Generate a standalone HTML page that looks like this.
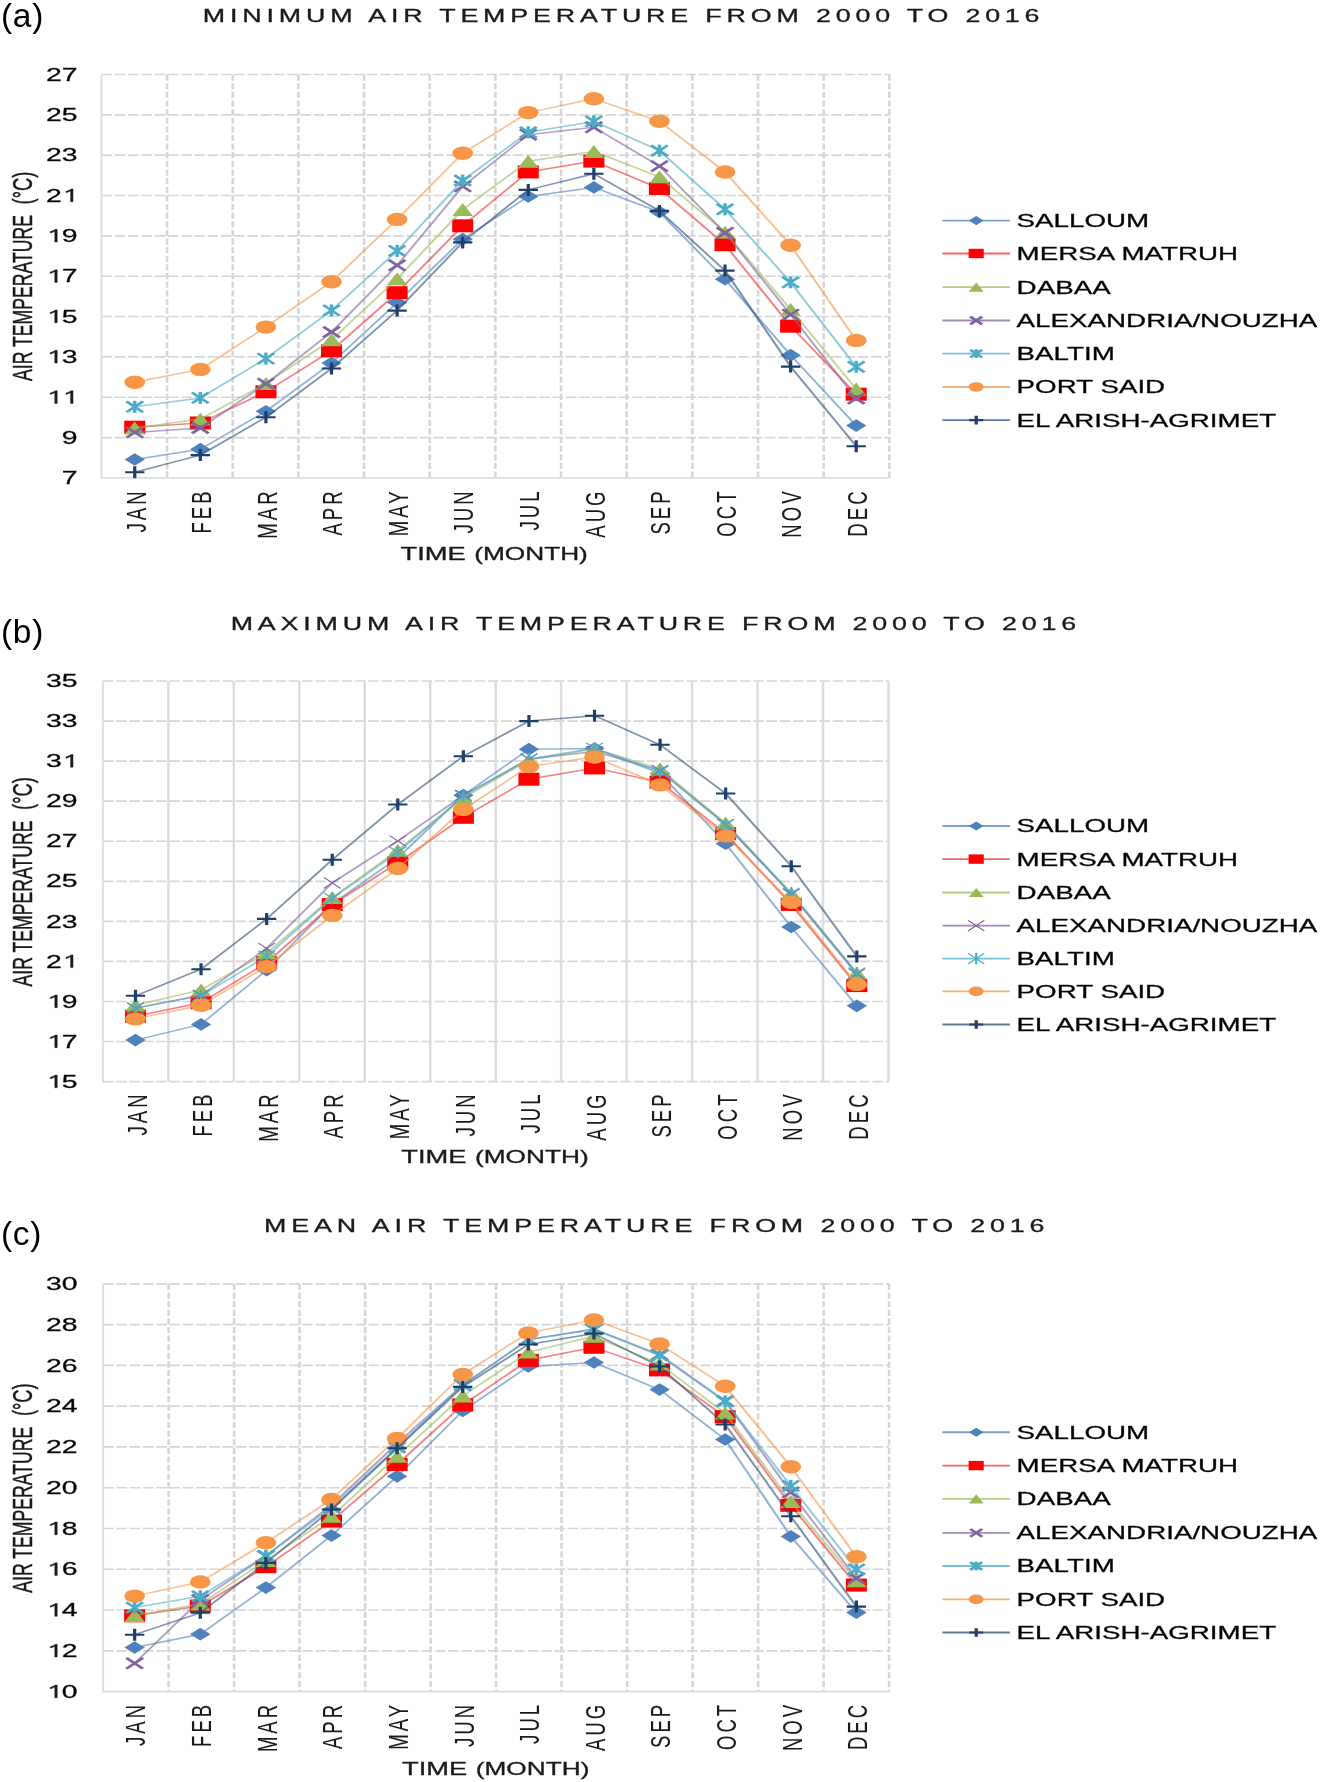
<!DOCTYPE html><html><head><meta charset="utf-8"><title>Air temperature charts</title><style>html,body{margin:0;padding:0;background:#fff;}svg{display:block;will-change:transform;filter:blur(0.45px);}text{font-family:"Liberation Sans", sans-serif;}g text{stroke:#1a1a1a;stroke-width:0.3px;}</style></head><body><svg width="1320" height="1782" viewBox="0 0 1320 1782"><rect width="1320" height="1782" fill="#fff"/><text x="1" y="27.1" font-size="33.5" letter-spacing="0.7" fill="#000">(a)</text><g transform="scale(1.534 1)" fill="#1a1a1a"><path d="M66.1 437.56H579.79M66.1 397.22H579.79M66.1 356.88H579.79M66.1 316.54H579.79M66.1 276.2H579.79M66.1 235.86H579.79M66.1 195.52H579.79M66.1 155.18H579.79M66.1 114.84H579.79M66.1 74.5H579.79" stroke="#D6D6D6" stroke-width="1.65" stroke-dasharray="6.95 1.7" fill="none"/><path d="M108.91 74.5V477.9M151.72 74.5V477.9M194.52 74.5V477.9M237.33 74.5V477.9M280.14 74.5V477.9M322.95 74.5V477.9M365.75 74.5V477.9M408.56 74.5V477.9M451.37 74.5V477.9M494.18 74.5V477.9M536.98 74.5V477.9M579.79 74.5V477.9" stroke="#D6D6D6" stroke-width="1.7" stroke-dasharray="6.2 2.43" fill="none"/><path d="M66.1 74.5V478.7" stroke="#DCDCDC" stroke-width="1.3" fill="none"/><path d="M66.1 477.9H579.79" stroke="#DCDCDC" stroke-width="1.8" fill="none"/><text x="40.31" y="484.1" font-size="18.5" text-anchor="start" fill="#000">7</text><text x="40.31" y="443.76" font-size="18.5" text-anchor="start" fill="#000">9</text><path d="M810 0H628V1190Q550 1118 455 1066Q365 1018 300 996V1160Q440 1218 545 1300Q630 1370 670 1409H810Z" transform="translate(30.02 403.42) scale(0.009033 -0.009033)" fill="#1a1a1a" stroke="#1a1a1a" stroke-width="33.21"/><path d="M810 0H628V1190Q550 1118 455 1066Q365 1018 300 996V1160Q440 1218 545 1300Q630 1370 670 1409H810Z" transform="translate(40.31 403.42) scale(0.009033 -0.009033)" fill="#1a1a1a" stroke="#1a1a1a" stroke-width="33.21"/><path d="M810 0H628V1190Q550 1118 455 1066Q365 1018 300 996V1160Q440 1218 545 1300Q630 1370 670 1409H810Z" transform="translate(30.02 363.08) scale(0.009033 -0.009033)" fill="#1a1a1a" stroke="#1a1a1a" stroke-width="33.21"/><text x="40.31" y="363.08" font-size="18.5" text-anchor="start" fill="#000">3</text><path d="M810 0H628V1190Q550 1118 455 1066Q365 1018 300 996V1160Q440 1218 545 1300Q630 1370 670 1409H810Z" transform="translate(30.02 322.74) scale(0.009033 -0.009033)" fill="#1a1a1a" stroke="#1a1a1a" stroke-width="33.21"/><text x="40.31" y="322.74" font-size="18.5" text-anchor="start" fill="#000">5</text><path d="M810 0H628V1190Q550 1118 455 1066Q365 1018 300 996V1160Q440 1218 545 1300Q630 1370 670 1409H810Z" transform="translate(30.02 282.4) scale(0.009033 -0.009033)" fill="#1a1a1a" stroke="#1a1a1a" stroke-width="33.21"/><text x="40.31" y="282.4" font-size="18.5" text-anchor="start" fill="#000">7</text><path d="M810 0H628V1190Q550 1118 455 1066Q365 1018 300 996V1160Q440 1218 545 1300Q630 1370 670 1409H810Z" transform="translate(30.02 242.06) scale(0.009033 -0.009033)" fill="#1a1a1a" stroke="#1a1a1a" stroke-width="33.21"/><text x="40.31" y="242.06" font-size="18.5" text-anchor="start" fill="#000">9</text><text x="30.02" y="201.72" font-size="18.5" text-anchor="start" fill="#000">2</text><path d="M810 0H628V1190Q550 1118 455 1066Q365 1018 300 996V1160Q440 1218 545 1300Q630 1370 670 1409H810Z" transform="translate(40.31 201.72) scale(0.009033 -0.009033)" fill="#1a1a1a" stroke="#1a1a1a" stroke-width="33.21"/><text x="30.02" y="161.38" font-size="18.5" text-anchor="start" fill="#000">2</text><text x="40.31" y="161.38" font-size="18.5" text-anchor="start" fill="#000">3</text><text x="30.02" y="121.04" font-size="18.5" text-anchor="start" fill="#000">2</text><text x="40.31" y="121.04" font-size="18.5" text-anchor="start" fill="#000">5</text><text x="30.02" y="80.7" font-size="18.5" text-anchor="start" fill="#000">2</text><text x="40.31" y="80.7" font-size="18.5" text-anchor="start" fill="#000">7</text><polyline points="87.84,459.5 130.59,449.2 173.35,411.3 216.11,363.1 258.86,302.6 301.62,239.2 344.37,196.5 387.13,187.4 429.89,212 472.64,279.2 515.4,355.2 558.15,425.6" stroke="#4F81BD" stroke-width="1.5" stroke-opacity="0.6" fill="none" stroke-linejoin="round"/><path d="M87.84 453.15L94.49 459.5L87.84 465.85L81.19 459.5Z" fill="#4F81BD"/><path d="M130.59 442.85L137.24 449.2L130.59 455.55L123.94 449.2Z" fill="#4F81BD"/><path d="M173.35 404.95L180 411.3L173.35 417.65L166.7 411.3Z" fill="#4F81BD"/><path d="M216.11 356.75L222.76 363.1L216.11 369.45L209.46 363.1Z" fill="#4F81BD"/><path d="M258.86 296.25L265.51 302.6L258.86 308.95L252.21 302.6Z" fill="#4F81BD"/><path d="M301.62 232.85L308.27 239.2L301.62 245.55L294.97 239.2Z" fill="#4F81BD"/><path d="M344.37 190.15L351.02 196.5L344.37 202.85L337.72 196.5Z" fill="#4F81BD"/><path d="M387.13 181.05L393.78 187.4L387.13 193.75L380.48 187.4Z" fill="#4F81BD"/><path d="M429.89 205.65L436.54 212L429.89 218.35L423.24 212Z" fill="#4F81BD"/><path d="M472.64 272.85L479.29 279.2L472.64 285.55L465.99 279.2Z" fill="#4F81BD"/><path d="M515.4 348.85L522.05 355.2L515.4 361.55L508.75 355.2Z" fill="#4F81BD"/><path d="M558.15 419.25L564.8 425.6L558.15 431.95L551.5 425.6Z" fill="#4F81BD"/><polyline points="87.84,427.2 130.59,423 173.35,391.8 216.11,350.8 258.86,292.7 301.62,225.8 344.37,171.9 387.13,161.1 429.89,188.5 472.64,244.7 515.4,326.2 558.15,394.2" stroke="#F03030" stroke-width="1.5" stroke-opacity="0.6" fill="none" stroke-linejoin="round"/><rect x="80.99" y="420.7" width="13.7" height="13" fill="#FF0000"/><rect x="123.74" y="416.5" width="13.7" height="13" fill="#FF0000"/><rect x="166.5" y="385.3" width="13.7" height="13" fill="#FF0000"/><rect x="209.26" y="344.3" width="13.7" height="13" fill="#FF0000"/><rect x="252.01" y="286.2" width="13.7" height="13" fill="#FF0000"/><rect x="294.77" y="219.3" width="13.7" height="13" fill="#FF0000"/><rect x="337.52" y="165.4" width="13.7" height="13" fill="#FF0000"/><rect x="380.28" y="154.6" width="13.7" height="13" fill="#FF0000"/><rect x="423.04" y="182" width="13.7" height="13" fill="#FF0000"/><rect x="465.79" y="238.2" width="13.7" height="13" fill="#FF0000"/><rect x="508.55" y="319.7" width="13.7" height="13" fill="#FF0000"/><rect x="551.3" y="387.7" width="13.7" height="13" fill="#FF0000"/><polyline points="87.84,428 130.59,419.1 173.35,383.5 216.11,339.9 258.86,278.9 301.62,209.5 344.37,161.3 387.13,151.5 429.89,176.8 472.64,232.2 515.4,309.4 558.15,389" stroke="#9BBB59" stroke-width="1.5" stroke-opacity="0.6" fill="none" stroke-linejoin="round"/><path d="M87.84 421.6L94.54 434.4L81.14 434.4Z" fill="#9BBB59"/><path d="M130.59 412.7L137.29 425.5L123.89 425.5Z" fill="#9BBB59"/><path d="M173.35 377.1L180.05 389.9L166.65 389.9Z" fill="#9BBB59"/><path d="M216.11 333.5L222.81 346.3L209.41 346.3Z" fill="#9BBB59"/><path d="M258.86 272.5L265.56 285.3L252.16 285.3Z" fill="#9BBB59"/><path d="M301.62 203.1L308.32 215.9L294.92 215.9Z" fill="#9BBB59"/><path d="M344.37 154.9L351.07 167.7L337.67 167.7Z" fill="#9BBB59"/><path d="M387.13 145.1L393.83 157.9L380.43 157.9Z" fill="#9BBB59"/><path d="M429.89 170.4L436.59 183.2L423.19 183.2Z" fill="#9BBB59"/><path d="M472.64 225.8L479.34 238.6L465.94 238.6Z" fill="#9BBB59"/><path d="M515.4 303L522.1 315.8L508.7 315.8Z" fill="#9BBB59"/><path d="M558.15 382.6L564.85 395.4L551.45 395.4Z" fill="#9BBB59"/><polyline points="87.84,432.4 130.59,428 173.35,383.7 216.11,332 258.86,265.3 301.62,186.4 344.37,134.7 387.13,127.3 429.89,166.1 472.64,232.8 515.4,314.6 558.15,398.5" stroke="#8064A2" stroke-width="1.5" stroke-opacity="0.6" fill="none" stroke-linejoin="round"/><path d="M82.44 427L93.24 437.8M82.44 437.8L93.24 427" stroke="#8064A2" stroke-width="2.3" fill="none"/><path d="M125.19 422.6L135.99 433.4M125.19 433.4L135.99 422.6" stroke="#8064A2" stroke-width="2.3" fill="none"/><path d="M167.95 378.3L178.75 389.1M167.95 389.1L178.75 378.3" stroke="#8064A2" stroke-width="2.3" fill="none"/><path d="M210.71 326.6L221.51 337.4M210.71 337.4L221.51 326.6" stroke="#8064A2" stroke-width="2.3" fill="none"/><path d="M253.46 259.9L264.26 270.7M253.46 270.7L264.26 259.9" stroke="#8064A2" stroke-width="2.3" fill="none"/><path d="M296.22 181L307.02 191.8M296.22 191.8L307.02 181" stroke="#8064A2" stroke-width="2.3" fill="none"/><path d="M338.97 129.3L349.77 140.1M338.97 140.1L349.77 129.3" stroke="#8064A2" stroke-width="2.3" fill="none"/><path d="M381.73 121.9L392.53 132.7M381.73 132.7L392.53 121.9" stroke="#8064A2" stroke-width="2.3" fill="none"/><path d="M424.49 160.7L435.29 171.5M424.49 171.5L435.29 160.7" stroke="#8064A2" stroke-width="2.3" fill="none"/><path d="M467.24 227.4L478.04 238.2M467.24 238.2L478.04 227.4" stroke="#8064A2" stroke-width="2.3" fill="none"/><path d="M510 309.2L520.8 320M510 320L520.8 309.2" stroke="#8064A2" stroke-width="2.3" fill="none"/><path d="M552.75 393.1L563.55 403.9M552.75 403.9L563.55 393.1" stroke="#8064A2" stroke-width="2.3" fill="none"/><polyline points="87.84,406.8 130.59,397.9 173.35,358.6 216.11,310.4 258.86,250.9 301.62,180.5 344.37,132.3 387.13,121.4 429.89,150.7 472.64,209.3 515.4,282.3 558.15,366.8" stroke="#4BACC6" stroke-width="1.5" stroke-opacity="0.6" fill="none" stroke-linejoin="round"/><path d="M82.44 401.4L93.24 412.2M82.44 412.2L93.24 401.4" stroke="#4BACC6" stroke-width="2.3" fill="none"/><path d="M87.84 400.8L87.84 412.8" stroke="#4BACC6" stroke-width="2.3" fill="none"/><path d="M125.19 392.5L135.99 403.3M125.19 403.3L135.99 392.5" stroke="#4BACC6" stroke-width="2.3" fill="none"/><path d="M130.59 391.9L130.59 403.9" stroke="#4BACC6" stroke-width="2.3" fill="none"/><path d="M167.95 353.2L178.75 364M167.95 364L178.75 353.2" stroke="#4BACC6" stroke-width="2.3" fill="none"/><path d="M173.35 352.6L173.35 364.6" stroke="#4BACC6" stroke-width="2.3" fill="none"/><path d="M210.71 305L221.51 315.8M210.71 315.8L221.51 305" stroke="#4BACC6" stroke-width="2.3" fill="none"/><path d="M216.11 304.4L216.11 316.4" stroke="#4BACC6" stroke-width="2.3" fill="none"/><path d="M253.46 245.5L264.26 256.3M253.46 256.3L264.26 245.5" stroke="#4BACC6" stroke-width="2.3" fill="none"/><path d="M258.86 244.9L258.86 256.9" stroke="#4BACC6" stroke-width="2.3" fill="none"/><path d="M296.22 175.1L307.02 185.9M296.22 185.9L307.02 175.1" stroke="#4BACC6" stroke-width="2.3" fill="none"/><path d="M301.62 174.5L301.62 186.5" stroke="#4BACC6" stroke-width="2.3" fill="none"/><path d="M338.97 126.9L349.77 137.7M338.97 137.7L349.77 126.9" stroke="#4BACC6" stroke-width="2.3" fill="none"/><path d="M344.37 126.3L344.37 138.3" stroke="#4BACC6" stroke-width="2.3" fill="none"/><path d="M381.73 116L392.53 126.8M381.73 126.8L392.53 116" stroke="#4BACC6" stroke-width="2.3" fill="none"/><path d="M387.13 115.4L387.13 127.4" stroke="#4BACC6" stroke-width="2.3" fill="none"/><path d="M424.49 145.3L435.29 156.1M424.49 156.1L435.29 145.3" stroke="#4BACC6" stroke-width="2.3" fill="none"/><path d="M429.89 144.7L429.89 156.7" stroke="#4BACC6" stroke-width="2.3" fill="none"/><path d="M467.24 203.9L478.04 214.7M467.24 214.7L478.04 203.9" stroke="#4BACC6" stroke-width="2.3" fill="none"/><path d="M472.64 203.3L472.64 215.3" stroke="#4BACC6" stroke-width="2.3" fill="none"/><path d="M510 276.9L520.8 287.7M510 287.7L520.8 276.9" stroke="#4BACC6" stroke-width="2.3" fill="none"/><path d="M515.4 276.3L515.4 288.3" stroke="#4BACC6" stroke-width="2.3" fill="none"/><path d="M552.75 361.4L563.55 372.2M552.75 372.2L563.55 361.4" stroke="#4BACC6" stroke-width="2.3" fill="none"/><path d="M558.15 360.8L558.15 372.8" stroke="#4BACC6" stroke-width="2.3" fill="none"/><polyline points="87.84,382.2 130.59,369.4 173.35,327.1 216.11,281.8 258.86,219.4 301.62,153.3 344.37,112.6 387.13,98.8 429.89,121.3 472.64,172 515.4,245.2 558.15,340.4" stroke="#F79646" stroke-width="1.5" stroke-opacity="0.6" fill="none" stroke-linejoin="round"/><ellipse cx="87.84" cy="382.2" rx="6.75" ry="6.7" fill="#F79646"/><ellipse cx="130.59" cy="369.4" rx="6.75" ry="6.7" fill="#F79646"/><ellipse cx="173.35" cy="327.1" rx="6.75" ry="6.7" fill="#F79646"/><ellipse cx="216.11" cy="281.8" rx="6.75" ry="6.7" fill="#F79646"/><ellipse cx="258.86" cy="219.4" rx="6.75" ry="6.7" fill="#F79646"/><ellipse cx="301.62" cy="153.3" rx="6.75" ry="6.7" fill="#F79646"/><ellipse cx="344.37" cy="112.6" rx="6.75" ry="6.7" fill="#F79646"/><ellipse cx="387.13" cy="98.8" rx="6.75" ry="6.7" fill="#F79646"/><ellipse cx="429.89" cy="121.3" rx="6.75" ry="6.7" fill="#F79646"/><ellipse cx="472.64" cy="172" rx="6.75" ry="6.7" fill="#F79646"/><ellipse cx="515.4" cy="245.2" rx="6.75" ry="6.7" fill="#F79646"/><ellipse cx="558.15" cy="340.4" rx="6.75" ry="6.7" fill="#F79646"/><polyline points="87.84,472.3 130.59,455.1 173.35,417.2 216.11,368.5 258.86,310.6 301.62,242.4 344.37,189.9 387.13,173.8 429.89,210.9 472.64,270.6 515.4,366.6 558.15,446.2" stroke="#2C4D75" stroke-width="1.5" stroke-opacity="0.6" fill="none" stroke-linejoin="round"/><path d="M81.54 472.3L94.14 472.3M87.84 466.3L87.84 478.3" stroke="#1F3F6A" stroke-width="2.1" fill="none"/><path d="M124.29 455.1L136.89 455.1M130.59 449.1L130.59 461.1" stroke="#1F3F6A" stroke-width="2.1" fill="none"/><path d="M167.05 417.2L179.65 417.2M173.35 411.2L173.35 423.2" stroke="#1F3F6A" stroke-width="2.1" fill="none"/><path d="M209.81 368.5L222.41 368.5M216.11 362.5L216.11 374.5" stroke="#1F3F6A" stroke-width="2.1" fill="none"/><path d="M252.56 310.6L265.16 310.6M258.86 304.6L258.86 316.6" stroke="#1F3F6A" stroke-width="2.1" fill="none"/><path d="M295.32 242.4L307.92 242.4M301.62 236.4L301.62 248.4" stroke="#1F3F6A" stroke-width="2.1" fill="none"/><path d="M338.07 189.9L350.67 189.9M344.37 183.9L344.37 195.9" stroke="#1F3F6A" stroke-width="2.1" fill="none"/><path d="M380.83 173.8L393.43 173.8M387.13 167.8L387.13 179.8" stroke="#1F3F6A" stroke-width="2.1" fill="none"/><path d="M423.59 210.9L436.19 210.9M429.89 204.9L429.89 216.9" stroke="#1F3F6A" stroke-width="2.1" fill="none"/><path d="M466.34 270.6L478.94 270.6M472.64 264.6L472.64 276.6" stroke="#1F3F6A" stroke-width="2.1" fill="none"/><path d="M509.1 366.6L521.7 366.6M515.4 360.6L515.4 372.6" stroke="#1F3F6A" stroke-width="2.1" fill="none"/><path d="M551.85 446.2L564.45 446.2M558.15 440.2L558.15 452.2" stroke="#1F3F6A" stroke-width="2.1" fill="none"/><text transform="translate(94.88 488.45) rotate(-90)" font-size="18.5" text-anchor="end" letter-spacing="3.05" style="stroke-width:0.05px">JAN</text><text transform="translate(137.64 488.45) rotate(-90)" font-size="18.5" text-anchor="end" letter-spacing="3.05" style="stroke-width:0.05px">FEB</text><text transform="translate(180.39 488.45) rotate(-90)" font-size="18.5" text-anchor="end" letter-spacing="3.05" style="stroke-width:0.05px">MAR</text><text transform="translate(223.15 488.45) rotate(-90)" font-size="18.5" text-anchor="end" letter-spacing="3.05" style="stroke-width:0.05px">APR</text><text transform="translate(265.9 488.45) rotate(-90)" font-size="18.5" text-anchor="end" letter-spacing="3.05" style="stroke-width:0.05px">MAY</text><text transform="translate(308.66 488.45) rotate(-90)" font-size="18.5" text-anchor="end" letter-spacing="3.05" style="stroke-width:0.05px">JUN</text><text transform="translate(351.41 488.45) rotate(-90)" font-size="18.5" text-anchor="end" letter-spacing="3.05" style="stroke-width:0.05px">JUL</text><text transform="translate(394.17 488.45) rotate(-90)" font-size="18.5" text-anchor="end" letter-spacing="3.05" style="stroke-width:0.05px">AUG</text><text transform="translate(436.93 488.45) rotate(-90)" font-size="18.5" text-anchor="end" letter-spacing="3.05" style="stroke-width:0.05px">SEP</text><text transform="translate(479.68 488.45) rotate(-90)" font-size="18.5" text-anchor="end" letter-spacing="3.05" style="stroke-width:0.05px">OCT</text><text transform="translate(522.44 488.45) rotate(-90)" font-size="18.5" text-anchor="end" letter-spacing="3.05" style="stroke-width:0.05px">NOV</text><text transform="translate(565.19 488.45) rotate(-90)" font-size="18.5" text-anchor="end" letter-spacing="3.05" style="stroke-width:0.05px">DEC</text><text x="261.07" y="560.5" font-size="17.8">TIME</text><text x="309.13" y="560.5" font-size="17.8" textLength="74.1" lengthAdjust="spacingAndGlyphs">(MONTH)</text><text transform="translate(21.09 171.7) rotate(-90)" font-size="18.3" text-anchor="end">(°C)</text><text transform="translate(21.09 381) rotate(-90)" font-size="18.3" textLength="165.9" lengthAdjust="spacingAndGlyphs">AIR TEMPERATURE</text><text x="132.24" y="22" font-size="17.5" textLength="545.42" lengthAdjust="spacing">MINIMUM AIR TEMPERATURE FROM 2000 TO 2016</text><path d="M614.34 220.6H658.41" stroke="#4F81BD" stroke-width="1.9" stroke-opacity="0.75"/><path d="M636.38 216.03L641.16 220.6L636.38 225.17L631.59 220.6Z" fill="#4F81BD"/><text x="662.72" y="227.1" font-size="18.1" text-anchor="start" fill="#000">SALLOUM</text><path d="M614.34 253.5H658.41" stroke="#F03030" stroke-width="1.9" stroke-opacity="0.75"/><rect x="631.44" y="248.82" width="9.86" height="9.36" fill="#FF0000"/><text x="662.72" y="260" font-size="18.1" text-anchor="start" fill="#000">MERSA MATRUH</text><path d="M614.34 287.1H658.41" stroke="#9BBB59" stroke-width="1.9" stroke-opacity="0.75"/><path d="M636.38 282.49L641.2 291.71L631.55 291.71Z" fill="#9BBB59"/><text x="662.72" y="293.6" font-size="18.1" text-anchor="start" fill="#000">DABAA</text><path d="M614.34 320.5H658.41" stroke="#8064A2" stroke-width="1.9" stroke-opacity="0.75"/><path d="M632.49 316.61L640.26 324.39M632.49 324.39L640.26 316.61" stroke="#8064A2" stroke-width="2.3" fill="none"/><text x="662.72" y="327" font-size="18.1" text-anchor="start" fill="#000">ALEXANDRIA/NOUZHA</text><path d="M614.34 353.6H658.41" stroke="#4BACC6" stroke-width="1.9" stroke-opacity="0.75"/><path d="M632.49 349.71L640.26 357.49M632.49 357.49L640.26 349.71" stroke="#4BACC6" stroke-width="2.3" fill="none"/><path d="M636.38 349.28L636.38 357.92" stroke="#4BACC6" stroke-width="2.3" fill="none"/><text x="662.72" y="360.1" font-size="18.1" text-anchor="start" fill="#000">BALTIM</text><path d="M614.34 387H658.41" stroke="#F79646" stroke-width="1.9" stroke-opacity="0.75"/><ellipse cx="636.38" cy="387" rx="4.86" ry="4.82" fill="#F79646"/><text x="662.72" y="393.5" font-size="18.1" text-anchor="start" fill="#000">PORT SAID</text><path d="M614.34 420.1H658.41" stroke="#2C4D75" stroke-width="1.9" stroke-opacity="0.75"/><path d="M631.84 420.1L640.91 420.1M636.38 415.78L636.38 424.42" stroke="#1F3F6A" stroke-width="2.1" fill="none"/><text x="662.72" y="426.6" font-size="18.1" text-anchor="start" fill="#000">EL ARISH-AGRIMET</text></g><text x="1" y="642.5" font-size="33.5" letter-spacing="0.7" fill="#000">(b)</text><g transform="scale(1.534 1)" fill="#1a1a1a"><path d="M67.08 1081.6H579.2M67.08 1041.54H579.2M67.08 1001.48H579.2M67.08 961.42H579.2M67.08 921.36H579.2M67.08 881.3H579.2M67.08 841.24H579.2M67.08 801.18H579.2M67.08 761.12H579.2M67.08 721.06H579.2M67.08 681H579.2" stroke="#D6D6D6" stroke-width="1.65" stroke-dasharray="6.95 1.7" fill="none"/><path d="M109.76 681V1081.6M152.43 681V1081.6M195.11 681V1081.6M237.79 681V1081.6M280.47 681V1081.6M323.14 681V1081.6M365.82 681V1081.6M408.5 681V1081.6M451.17 681V1081.6M493.85 681V1081.6M536.53 681V1081.6M579.2 681V1081.6" stroke="#DCDCDC" stroke-width="1.6" fill="none"/><path d="M67.08 681V1082.4" stroke="#DCDCDC" stroke-width="1.3" fill="none"/><path d="M810 0H628V1190Q550 1118 455 1066Q365 1018 300 996V1160Q440 1218 545 1300Q630 1370 670 1409H810Z" transform="translate(30.02 1087.8) scale(0.009033 -0.009033)" fill="#1a1a1a" stroke="#1a1a1a" stroke-width="33.21"/><text x="40.31" y="1087.8" font-size="18.5" text-anchor="start" fill="#000">5</text><path d="M810 0H628V1190Q550 1118 455 1066Q365 1018 300 996V1160Q440 1218 545 1300Q630 1370 670 1409H810Z" transform="translate(30.02 1047.74) scale(0.009033 -0.009033)" fill="#1a1a1a" stroke="#1a1a1a" stroke-width="33.21"/><text x="40.31" y="1047.74" font-size="18.5" text-anchor="start" fill="#000">7</text><path d="M810 0H628V1190Q550 1118 455 1066Q365 1018 300 996V1160Q440 1218 545 1300Q630 1370 670 1409H810Z" transform="translate(30.02 1007.68) scale(0.009033 -0.009033)" fill="#1a1a1a" stroke="#1a1a1a" stroke-width="33.21"/><text x="40.31" y="1007.68" font-size="18.5" text-anchor="start" fill="#000">9</text><text x="30.02" y="967.62" font-size="18.5" text-anchor="start" fill="#000">2</text><path d="M810 0H628V1190Q550 1118 455 1066Q365 1018 300 996V1160Q440 1218 545 1300Q630 1370 670 1409H810Z" transform="translate(40.31 967.62) scale(0.009033 -0.009033)" fill="#1a1a1a" stroke="#1a1a1a" stroke-width="33.21"/><text x="30.02" y="927.56" font-size="18.5" text-anchor="start" fill="#000">2</text><text x="40.31" y="927.56" font-size="18.5" text-anchor="start" fill="#000">3</text><text x="30.02" y="887.5" font-size="18.5" text-anchor="start" fill="#000">2</text><text x="40.31" y="887.5" font-size="18.5" text-anchor="start" fill="#000">5</text><text x="30.02" y="847.44" font-size="18.5" text-anchor="start" fill="#000">2</text><text x="40.31" y="847.44" font-size="18.5" text-anchor="start" fill="#000">7</text><text x="30.02" y="807.38" font-size="18.5" text-anchor="start" fill="#000">2</text><text x="40.31" y="807.38" font-size="18.5" text-anchor="start" fill="#000">9</text><text x="30.02" y="767.32" font-size="18.5" text-anchor="start" fill="#000">3</text><path d="M810 0H628V1190Q550 1118 455 1066Q365 1018 300 996V1160Q440 1218 545 1300Q630 1370 670 1409H810Z" transform="translate(40.31 767.32) scale(0.009033 -0.009033)" fill="#1a1a1a" stroke="#1a1a1a" stroke-width="33.21"/><text x="30.02" y="727.26" font-size="18.5" text-anchor="start" fill="#000">3</text><text x="40.31" y="727.26" font-size="18.5" text-anchor="start" fill="#000">3</text><text x="30.02" y="687.2" font-size="18.5" text-anchor="start" fill="#000">3</text><text x="40.31" y="687.2" font-size="18.5" text-anchor="start" fill="#000">5</text><polyline points="88.32,1040.1 131.07,1024.4 173.82,970.1 216.57,904 259.31,858 302.06,795.2 344.81,749.2 387.56,748.5 430.3,773.3 473.05,843.7 515.8,927 558.55,1005.8" stroke="#4F81BD" stroke-width="1.5" stroke-opacity="0.6" fill="none" stroke-linejoin="round"/><path d="M88.32 1033.75L94.97 1040.1L88.32 1046.45L81.67 1040.1Z" fill="#4F81BD"/><path d="M131.07 1018.05L137.72 1024.4L131.07 1030.75L124.42 1024.4Z" fill="#4F81BD"/><path d="M173.82 963.75L180.47 970.1L173.82 976.45L167.17 970.1Z" fill="#4F81BD"/><path d="M216.57 897.65L223.22 904L216.57 910.35L209.92 904Z" fill="#4F81BD"/><path d="M259.31 851.65L265.96 858L259.31 864.35L252.66 858Z" fill="#4F81BD"/><path d="M302.06 788.85L308.71 795.2L302.06 801.55L295.41 795.2Z" fill="#4F81BD"/><path d="M344.81 742.85L351.46 749.2L344.81 755.55L338.16 749.2Z" fill="#4F81BD"/><path d="M387.56 742.15L394.21 748.5L387.56 754.85L380.91 748.5Z" fill="#4F81BD"/><path d="M430.3 766.95L436.95 773.3L430.3 779.65L423.65 773.3Z" fill="#4F81BD"/><path d="M473.05 837.35L479.7 843.7L473.05 850.05L466.4 843.7Z" fill="#4F81BD"/><path d="M515.8 920.65L522.45 927L515.8 933.35L509.15 927Z" fill="#4F81BD"/><path d="M558.55 999.45L565.2 1005.8L558.55 1012.15L551.9 1005.8Z" fill="#4F81BD"/><polyline points="88.32,1016.2 131.07,1002.7 173.82,962.7 216.57,904.6 259.31,862.8 302.06,817.3 344.81,779.2 387.56,767.9 430.3,782.2 473.05,833.6 515.8,904.4 558.55,985.6" stroke="#F03030" stroke-width="1.5" stroke-opacity="0.6" fill="none" stroke-linejoin="round"/><rect x="81.47" y="1009.7" width="13.7" height="13" fill="#FF0000"/><rect x="124.22" y="996.2" width="13.7" height="13" fill="#FF0000"/><rect x="166.97" y="956.2" width="13.7" height="13" fill="#FF0000"/><rect x="209.72" y="898.1" width="13.7" height="13" fill="#FF0000"/><rect x="252.46" y="856.3" width="13.7" height="13" fill="#FF0000"/><rect x="295.21" y="810.8" width="13.7" height="13" fill="#FF0000"/><rect x="337.96" y="772.7" width="13.7" height="13" fill="#FF0000"/><rect x="380.71" y="761.4" width="13.7" height="13" fill="#FF0000"/><rect x="423.45" y="775.7" width="13.7" height="13" fill="#FF0000"/><rect x="466.2" y="827.1" width="13.7" height="13" fill="#FF0000"/><rect x="508.95" y="897.9" width="13.7" height="13" fill="#FF0000"/><rect x="551.7" y="979.1" width="13.7" height="13" fill="#FF0000"/><polyline points="88.32,1005.2 131.07,989.9 173.82,952.8 216.57,897.7 259.31,850.3 302.06,798 344.81,760 387.56,748.7 430.3,768.9 473.05,823.1 515.8,893.3 558.55,973.1" stroke="#9BBB59" stroke-width="1.5" stroke-opacity="0.6" fill="none" stroke-linejoin="round"/><path d="M88.32 998.8L95.02 1011.6L81.62 1011.6Z" fill="#9BBB59"/><path d="M131.07 983.5L137.77 996.3L124.37 996.3Z" fill="#9BBB59"/><path d="M173.82 946.4L180.52 959.2L167.12 959.2Z" fill="#9BBB59"/><path d="M216.57 891.3L223.27 904.1L209.87 904.1Z" fill="#9BBB59"/><path d="M259.31 843.9L266.01 856.7L252.61 856.7Z" fill="#9BBB59"/><path d="M302.06 791.6L308.76 804.4L295.36 804.4Z" fill="#9BBB59"/><path d="M344.81 753.6L351.51 766.4L338.11 766.4Z" fill="#9BBB59"/><path d="M387.56 742.3L394.26 755.1L380.86 755.1Z" fill="#9BBB59"/><path d="M430.3 762.5L437 775.3L423.6 775.3Z" fill="#9BBB59"/><path d="M473.05 816.7L479.75 829.5L466.35 829.5Z" fill="#9BBB59"/><path d="M515.8 886.9L522.5 899.7L509.1 899.7Z" fill="#9BBB59"/><path d="M558.55 966.7L565.25 979.5L551.85 979.5Z" fill="#9BBB59"/><polyline points="88.32,1008.1 131.07,995.3 173.82,948.4 216.57,882.9 259.31,840.9 302.06,795.2 344.81,759 387.56,751.5 430.3,770.4 473.05,824.5 515.8,894.3 558.55,974.1" stroke="#8064A2" stroke-width="1.5" stroke-opacity="0.6" fill="none" stroke-linejoin="round"/><path d="M82.92 1002.7L93.72 1013.5M82.92 1013.5L93.72 1002.7" stroke="#8064A2" stroke-width="1.0" fill="none"/><path d="M125.67 989.9L136.47 1000.7M125.67 1000.7L136.47 989.9" stroke="#8064A2" stroke-width="1.0" fill="none"/><path d="M168.42 943L179.22 953.8M168.42 953.8L179.22 943" stroke="#8064A2" stroke-width="1.0" fill="none"/><path d="M211.17 877.5L221.97 888.3M211.17 888.3L221.97 877.5" stroke="#8064A2" stroke-width="1.0" fill="none"/><path d="M253.91 835.5L264.71 846.3M253.91 846.3L264.71 835.5" stroke="#8064A2" stroke-width="1.0" fill="none"/><path d="M296.66 789.8L307.46 800.6M296.66 800.6L307.46 789.8" stroke="#8064A2" stroke-width="1.0" fill="none"/><path d="M339.41 753.6L350.21 764.4M339.41 764.4L350.21 753.6" stroke="#8064A2" stroke-width="1.0" fill="none"/><path d="M382.16 746.1L392.96 756.9M382.16 756.9L392.96 746.1" stroke="#8064A2" stroke-width="1.0" fill="none"/><path d="M424.9 765L435.7 775.8M424.9 775.8L435.7 765" stroke="#8064A2" stroke-width="1.0" fill="none"/><path d="M467.65 819.1L478.45 829.9M467.65 829.9L478.45 819.1" stroke="#8064A2" stroke-width="1.0" fill="none"/><path d="M510.4 888.9L521.2 899.7M510.4 899.7L521.2 888.9" stroke="#8064A2" stroke-width="1.0" fill="none"/><path d="M553.15 968.7L563.95 979.5M553.15 979.5L563.95 968.7" stroke="#8064A2" stroke-width="1.0" fill="none"/><polyline points="88.32,1008.1 131.07,995.8 173.82,956.3 216.57,898.2 259.31,852.3 302.06,796.1 344.81,759 387.56,748.3 430.3,771.4 473.05,824.5 515.8,893.3 558.55,973.1" stroke="#4BACC6" stroke-width="1.5" stroke-opacity="0.6" fill="none" stroke-linejoin="round"/><path d="M82.92 1002.7L93.72 1013.5M82.92 1013.5L93.72 1002.7" stroke="#4BACC6" stroke-width="1.0" fill="none"/><path d="M88.32 1002.1L88.32 1014.1" stroke="#4BACC6" stroke-width="1.4" fill="none"/><path d="M125.67 990.4L136.47 1001.2M125.67 1001.2L136.47 990.4" stroke="#4BACC6" stroke-width="1.0" fill="none"/><path d="M131.07 989.8L131.07 1001.8" stroke="#4BACC6" stroke-width="1.4" fill="none"/><path d="M168.42 950.9L179.22 961.7M168.42 961.7L179.22 950.9" stroke="#4BACC6" stroke-width="1.0" fill="none"/><path d="M173.82 950.3L173.82 962.3" stroke="#4BACC6" stroke-width="1.4" fill="none"/><path d="M211.17 892.8L221.97 903.6M211.17 903.6L221.97 892.8" stroke="#4BACC6" stroke-width="1.0" fill="none"/><path d="M216.57 892.2L216.57 904.2" stroke="#4BACC6" stroke-width="1.4" fill="none"/><path d="M253.91 846.9L264.71 857.7M253.91 857.7L264.71 846.9" stroke="#4BACC6" stroke-width="1.0" fill="none"/><path d="M259.31 846.3L259.31 858.3" stroke="#4BACC6" stroke-width="1.4" fill="none"/><path d="M296.66 790.7L307.46 801.5M296.66 801.5L307.46 790.7" stroke="#4BACC6" stroke-width="1.0" fill="none"/><path d="M302.06 790.1L302.06 802.1" stroke="#4BACC6" stroke-width="1.4" fill="none"/><path d="M339.41 753.6L350.21 764.4M339.41 764.4L350.21 753.6" stroke="#4BACC6" stroke-width="1.0" fill="none"/><path d="M344.81 753L344.81 765" stroke="#4BACC6" stroke-width="1.4" fill="none"/><path d="M382.16 742.9L392.96 753.7M382.16 753.7L392.96 742.9" stroke="#4BACC6" stroke-width="1.0" fill="none"/><path d="M387.56 742.3L387.56 754.3" stroke="#4BACC6" stroke-width="1.4" fill="none"/><path d="M424.9 766L435.7 776.8M424.9 776.8L435.7 766" stroke="#4BACC6" stroke-width="1.0" fill="none"/><path d="M430.3 765.4L430.3 777.4" stroke="#4BACC6" stroke-width="1.4" fill="none"/><path d="M467.65 819.1L478.45 829.9M467.65 829.9L478.45 819.1" stroke="#4BACC6" stroke-width="1.0" fill="none"/><path d="M473.05 818.5L473.05 830.5" stroke="#4BACC6" stroke-width="1.4" fill="none"/><path d="M510.4 887.9L521.2 898.7M510.4 898.7L521.2 887.9" stroke="#4BACC6" stroke-width="1.0" fill="none"/><path d="M515.8 887.3L515.8 899.3" stroke="#4BACC6" stroke-width="1.4" fill="none"/><path d="M553.15 967.7L563.95 978.5M553.15 978.5L563.95 967.7" stroke="#4BACC6" stroke-width="1.0" fill="none"/><path d="M558.55 967.1L558.55 979.1" stroke="#4BACC6" stroke-width="1.4" fill="none"/><polyline points="88.32,1018.9 131.07,1005.2 173.82,966.6 216.57,915.4 259.31,868.5 302.06,809.4 344.81,766.6 387.56,757 430.3,784.9 473.05,835.9 515.8,902.2 558.55,984.4" stroke="#F79646" stroke-width="1.5" stroke-opacity="0.6" fill="none" stroke-linejoin="round"/><ellipse cx="88.32" cy="1018.9" rx="6.75" ry="6.7" fill="#F79646"/><ellipse cx="131.07" cy="1005.2" rx="6.75" ry="6.7" fill="#F79646"/><ellipse cx="173.82" cy="966.6" rx="6.75" ry="6.7" fill="#F79646"/><ellipse cx="216.57" cy="915.4" rx="6.75" ry="6.7" fill="#F79646"/><ellipse cx="259.31" cy="868.5" rx="6.75" ry="6.7" fill="#F79646"/><ellipse cx="302.06" cy="809.4" rx="6.75" ry="6.7" fill="#F79646"/><ellipse cx="344.81" cy="766.6" rx="6.75" ry="6.7" fill="#F79646"/><ellipse cx="387.56" cy="757" rx="6.75" ry="6.7" fill="#F79646"/><ellipse cx="430.3" cy="784.9" rx="6.75" ry="6.7" fill="#F79646"/><ellipse cx="473.05" cy="835.9" rx="6.75" ry="6.7" fill="#F79646"/><ellipse cx="515.8" cy="902.2" rx="6.75" ry="6.7" fill="#F79646"/><ellipse cx="558.55" cy="984.4" rx="6.75" ry="6.7" fill="#F79646"/><polyline points="88.32,995.8 131.07,969.2 173.82,918.9 216.57,859.8 259.31,804.5 302.06,756.2 344.81,721.1 387.56,715.7 430.3,744.8 473.05,793.5 515.8,866.2 558.55,956.4" stroke="#2C4D75" stroke-width="1.5" stroke-opacity="0.6" fill="none" stroke-linejoin="round"/><path d="M82.02 995.8L94.62 995.8M88.32 989.8L88.32 1001.8" stroke="#1F3F6A" stroke-width="2.1" fill="none"/><path d="M124.77 969.2L137.37 969.2M131.07 963.2L131.07 975.2" stroke="#1F3F6A" stroke-width="2.1" fill="none"/><path d="M167.52 918.9L180.12 918.9M173.82 912.9L173.82 924.9" stroke="#1F3F6A" stroke-width="2.1" fill="none"/><path d="M210.27 859.8L222.87 859.8M216.57 853.8L216.57 865.8" stroke="#1F3F6A" stroke-width="2.1" fill="none"/><path d="M253.01 804.5L265.61 804.5M259.31 798.5L259.31 810.5" stroke="#1F3F6A" stroke-width="2.1" fill="none"/><path d="M295.76 756.2L308.36 756.2M302.06 750.2L302.06 762.2" stroke="#1F3F6A" stroke-width="2.1" fill="none"/><path d="M338.51 721.1L351.11 721.1M344.81 715.1L344.81 727.1" stroke="#1F3F6A" stroke-width="2.1" fill="none"/><path d="M381.26 715.7L393.86 715.7M387.56 709.7L387.56 721.7" stroke="#1F3F6A" stroke-width="2.1" fill="none"/><path d="M424 744.8L436.6 744.8M430.3 738.8L430.3 750.8" stroke="#1F3F6A" stroke-width="2.1" fill="none"/><path d="M466.75 793.5L479.35 793.5M473.05 787.5L473.05 799.5" stroke="#1F3F6A" stroke-width="2.1" fill="none"/><path d="M509.5 866.2L522.1 866.2M515.8 860.2L515.8 872.2" stroke="#1F3F6A" stroke-width="2.1" fill="none"/><path d="M552.25 956.4L564.85 956.4M558.55 950.4L558.55 962.4" stroke="#1F3F6A" stroke-width="2.1" fill="none"/><text transform="translate(95.62 1091.45) rotate(-90)" font-size="18.5" text-anchor="end" letter-spacing="3.05" style="stroke-width:0.05px">JAN</text><text transform="translate(138.37 1091.45) rotate(-90)" font-size="18.5" text-anchor="end" letter-spacing="3.05" style="stroke-width:0.05px">FEB</text><text transform="translate(181.12 1091.45) rotate(-90)" font-size="18.5" text-anchor="end" letter-spacing="3.05" style="stroke-width:0.05px">MAR</text><text transform="translate(223.87 1091.45) rotate(-90)" font-size="18.5" text-anchor="end" letter-spacing="3.05" style="stroke-width:0.05px">APR</text><text transform="translate(266.62 1091.45) rotate(-90)" font-size="18.5" text-anchor="end" letter-spacing="3.05" style="stroke-width:0.05px">MAY</text><text transform="translate(309.36 1091.45) rotate(-90)" font-size="18.5" text-anchor="end" letter-spacing="3.05" style="stroke-width:0.05px">JUN</text><text transform="translate(352.11 1091.45) rotate(-90)" font-size="18.5" text-anchor="end" letter-spacing="3.05" style="stroke-width:0.05px">JUL</text><text transform="translate(394.86 1091.45) rotate(-90)" font-size="18.5" text-anchor="end" letter-spacing="3.05" style="stroke-width:0.05px">AUG</text><text transform="translate(437.61 1091.45) rotate(-90)" font-size="18.5" text-anchor="end" letter-spacing="3.05" style="stroke-width:0.05px">SEP</text><text transform="translate(480.35 1091.45) rotate(-90)" font-size="18.5" text-anchor="end" letter-spacing="3.05" style="stroke-width:0.05px">OCT</text><text transform="translate(523.1 1091.45) rotate(-90)" font-size="18.5" text-anchor="end" letter-spacing="3.05" style="stroke-width:0.05px">NOV</text><text transform="translate(565.85 1091.45) rotate(-90)" font-size="18.5" text-anchor="end" letter-spacing="3.05" style="stroke-width:0.05px">DEC</text><text x="261.59" y="1163.4" font-size="17.8">TIME</text><text x="309.66" y="1163.4" font-size="17.8" textLength="74.1" lengthAdjust="spacingAndGlyphs">(MONTH)</text><text transform="translate(21.09 777.2) rotate(-90)" font-size="18.3" text-anchor="end">(°C)</text><text transform="translate(21.09 986.5) rotate(-90)" font-size="18.3" textLength="165.9" lengthAdjust="spacingAndGlyphs">AIR TEMPERATURE</text><text x="150.36" y="629.6" font-size="17.5" textLength="551.22" lengthAdjust="spacing">MAXIMUM AIR TEMPERATURE FROM 2000 TO 2016</text><path d="M614.34 826H658.41" stroke="#4F81BD" stroke-width="1.9" stroke-opacity="0.75"/><path d="M636.38 821.43L641.16 826L636.38 830.57L631.59 826Z" fill="#4F81BD"/><text x="662.72" y="832.5" font-size="18.1" text-anchor="start" fill="#000">SALLOUM</text><path d="M614.34 859.1H658.41" stroke="#F03030" stroke-width="1.9" stroke-opacity="0.75"/><rect x="631.44" y="854.42" width="9.86" height="9.36" fill="#FF0000"/><text x="662.72" y="865.6" font-size="18.1" text-anchor="start" fill="#000">MERSA MATRUH</text><path d="M614.34 892.5H658.41" stroke="#9BBB59" stroke-width="1.9" stroke-opacity="0.75"/><path d="M636.38 887.89L641.2 897.11L631.55 897.11Z" fill="#9BBB59"/><text x="662.72" y="899" font-size="18.1" text-anchor="start" fill="#000">DABAA</text><path d="M614.34 925.6H658.41" stroke="#8064A2" stroke-width="1.9" stroke-opacity="0.75"/><path d="M631.14 920.36L641.61 930.84M631.14 930.84L641.61 920.36" stroke="#8064A2" stroke-width="1.0" fill="none"/><text x="662.72" y="932.1" font-size="18.1" text-anchor="start" fill="#000">ALEXANDRIA/NOUZHA</text><path d="M614.34 958.6H658.41" stroke="#4BACC6" stroke-width="1.9" stroke-opacity="0.75"/><path d="M631.14 953.36L641.61 963.84M631.14 963.84L641.61 953.36" stroke="#4BACC6" stroke-width="1.0" fill="none"/><path d="M636.38 952.78L636.38 964.42" stroke="#4BACC6" stroke-width="1.4" fill="none"/><text x="662.72" y="965.1" font-size="18.1" text-anchor="start" fill="#000">BALTIM</text><path d="M614.34 991.4H658.41" stroke="#F79646" stroke-width="1.9" stroke-opacity="0.75"/><ellipse cx="636.38" cy="991.4" rx="4.86" ry="4.82" fill="#F79646"/><text x="662.72" y="997.9" font-size="18.1" text-anchor="start" fill="#000">PORT SAID</text><path d="M614.34 1024.5H658.41" stroke="#2C4D75" stroke-width="1.9" stroke-opacity="0.75"/><path d="M631.84 1024.5L640.91 1024.5M636.38 1020.18L636.38 1028.82" stroke="#1F3F6A" stroke-width="2.1" fill="none"/><text x="662.72" y="1031" font-size="18.1" text-anchor="start" fill="#000">EL ARISH-AGRIMET</text></g><text x="1" y="1245.3" font-size="33.5" letter-spacing="0.7" fill="#000">(c)</text><g transform="scale(1.534 1)" fill="#1a1a1a"><path d="M67.21 1650.82H579.6M67.21 1610.04H579.6M67.21 1569.26H579.6M67.21 1528.48H579.6M67.21 1487.7H579.6M67.21 1446.92H579.6M67.21 1406.14H579.6M67.21 1365.36H579.6M67.21 1324.58H579.6M67.21 1283.8H579.6" stroke="#D6D6D6" stroke-width="1.65" stroke-dasharray="6.95 1.7" fill="none"/><path d="M109.91 1283.8V1691.6M152.61 1283.8V1691.6M195.31 1283.8V1691.6M238.01 1283.8V1691.6M280.7 1283.8V1691.6M323.4 1283.8V1691.6M366.1 1283.8V1691.6M408.8 1283.8V1691.6M451.5 1283.8V1691.6M494.2 1283.8V1691.6M536.9 1283.8V1691.6M579.6 1283.8V1691.6" stroke="#D6D6D6" stroke-width="1.7" stroke-dasharray="6.2 2.43" fill="none"/><path d="M67.21 1283.8V1692.4" stroke="#DCDCDC" stroke-width="1.3" fill="none"/><path d="M67.21 1691.6H579.6" stroke="#DCDCDC" stroke-width="1.8" fill="none"/><path d="M810 0H628V1190Q550 1118 455 1066Q365 1018 300 996V1160Q440 1218 545 1300Q630 1370 670 1409H810Z" transform="translate(30.02 1697.8) scale(0.009033 -0.009033)" fill="#1a1a1a" stroke="#1a1a1a" stroke-width="33.21"/><text x="40.31" y="1697.8" font-size="18.5" text-anchor="start" fill="#000">0</text><path d="M810 0H628V1190Q550 1118 455 1066Q365 1018 300 996V1160Q440 1218 545 1300Q630 1370 670 1409H810Z" transform="translate(30.02 1657.02) scale(0.009033 -0.009033)" fill="#1a1a1a" stroke="#1a1a1a" stroke-width="33.21"/><text x="40.31" y="1657.02" font-size="18.5" text-anchor="start" fill="#000">2</text><path d="M810 0H628V1190Q550 1118 455 1066Q365 1018 300 996V1160Q440 1218 545 1300Q630 1370 670 1409H810Z" transform="translate(30.02 1616.24) scale(0.009033 -0.009033)" fill="#1a1a1a" stroke="#1a1a1a" stroke-width="33.21"/><text x="40.31" y="1616.24" font-size="18.5" text-anchor="start" fill="#000">4</text><path d="M810 0H628V1190Q550 1118 455 1066Q365 1018 300 996V1160Q440 1218 545 1300Q630 1370 670 1409H810Z" transform="translate(30.02 1575.46) scale(0.009033 -0.009033)" fill="#1a1a1a" stroke="#1a1a1a" stroke-width="33.21"/><text x="40.31" y="1575.46" font-size="18.5" text-anchor="start" fill="#000">6</text><path d="M810 0H628V1190Q550 1118 455 1066Q365 1018 300 996V1160Q440 1218 545 1300Q630 1370 670 1409H810Z" transform="translate(30.02 1534.68) scale(0.009033 -0.009033)" fill="#1a1a1a" stroke="#1a1a1a" stroke-width="33.21"/><text x="40.31" y="1534.68" font-size="18.5" text-anchor="start" fill="#000">8</text><text x="30.02" y="1493.9" font-size="18.5" text-anchor="start" fill="#000">2</text><text x="40.31" y="1493.9" font-size="18.5" text-anchor="start" fill="#000">0</text><text x="30.02" y="1453.12" font-size="18.5" text-anchor="start" fill="#000">2</text><text x="40.31" y="1453.12" font-size="18.5" text-anchor="start" fill="#000">2</text><text x="30.02" y="1412.34" font-size="18.5" text-anchor="start" fill="#000">2</text><text x="40.31" y="1412.34" font-size="18.5" text-anchor="start" fill="#000">4</text><text x="30.02" y="1371.56" font-size="18.5" text-anchor="start" fill="#000">2</text><text x="40.31" y="1371.56" font-size="18.5" text-anchor="start" fill="#000">6</text><text x="30.02" y="1330.78" font-size="18.5" text-anchor="start" fill="#000">2</text><text x="40.31" y="1330.78" font-size="18.5" text-anchor="start" fill="#000">8</text><text x="30.02" y="1290" font-size="18.5" text-anchor="start" fill="#000">3</text><text x="40.31" y="1290" font-size="18.5" text-anchor="start" fill="#000">0</text><polyline points="87.78,1647.5 130.55,1634.2 173.33,1587.6 216.1,1535.6 258.87,1476.3 301.64,1410.8 344.41,1366.5 387.19,1362.5 429.96,1389.6 472.73,1439.5 515.5,1536.4 558.27,1612.6" stroke="#4F81BD" stroke-width="1.5" stroke-opacity="0.6" fill="none" stroke-linejoin="round"/><path d="M87.78 1641.15L94.43 1647.5L87.78 1653.85L81.13 1647.5Z" fill="#4F81BD"/><path d="M130.55 1627.85L137.2 1634.2L130.55 1640.55L123.9 1634.2Z" fill="#4F81BD"/><path d="M173.33 1581.25L179.98 1587.6L173.33 1593.95L166.68 1587.6Z" fill="#4F81BD"/><path d="M216.1 1529.25L222.75 1535.6L216.1 1541.95L209.45 1535.6Z" fill="#4F81BD"/><path d="M258.87 1469.95L265.52 1476.3L258.87 1482.65L252.22 1476.3Z" fill="#4F81BD"/><path d="M301.64 1404.45L308.29 1410.8L301.64 1417.15L294.99 1410.8Z" fill="#4F81BD"/><path d="M344.41 1360.15L351.06 1366.5L344.41 1372.85L337.76 1366.5Z" fill="#4F81BD"/><path d="M387.19 1356.15L393.84 1362.5L387.19 1368.85L380.54 1362.5Z" fill="#4F81BD"/><path d="M429.96 1383.25L436.61 1389.6L429.96 1395.95L423.31 1389.6Z" fill="#4F81BD"/><path d="M472.73 1433.15L479.38 1439.5L472.73 1445.85L466.08 1439.5Z" fill="#4F81BD"/><path d="M515.5 1530.05L522.15 1536.4L515.5 1542.75L508.85 1536.4Z" fill="#4F81BD"/><path d="M558.27 1606.25L564.92 1612.6L558.27 1618.95L551.62 1612.6Z" fill="#4F81BD"/><polyline points="87.78,1615.8 130.55,1606.1 173.33,1566.7 216.1,1521.1 258.87,1464.5 301.64,1404.9 344.41,1360.3 387.19,1347.3 429.96,1369.9 472.73,1416.7 515.5,1505.3 558.27,1585.1" stroke="#F03030" stroke-width="1.5" stroke-opacity="0.6" fill="none" stroke-linejoin="round"/><rect x="80.93" y="1609.3" width="13.7" height="13" fill="#FF0000"/><rect x="123.7" y="1599.6" width="13.7" height="13" fill="#FF0000"/><rect x="166.48" y="1560.2" width="13.7" height="13" fill="#FF0000"/><rect x="209.25" y="1514.6" width="13.7" height="13" fill="#FF0000"/><rect x="252.02" y="1458" width="13.7" height="13" fill="#FF0000"/><rect x="294.79" y="1398.4" width="13.7" height="13" fill="#FF0000"/><rect x="337.56" y="1353.8" width="13.7" height="13" fill="#FF0000"/><rect x="380.34" y="1340.8" width="13.7" height="13" fill="#FF0000"/><rect x="423.11" y="1363.4" width="13.7" height="13" fill="#FF0000"/><rect x="465.88" y="1410.2" width="13.7" height="13" fill="#FF0000"/><rect x="508.65" y="1498.8" width="13.7" height="13" fill="#FF0000"/><rect x="551.42" y="1578.6" width="13.7" height="13" fill="#FF0000"/><polyline points="87.78,1615.5 130.55,1604 173.33,1560.5 216.1,1516.4 258.87,1456.3 301.64,1396 344.41,1352.2 387.19,1336.3 429.96,1364 472.73,1413.2 515.5,1501.5 558.27,1580.8" stroke="#9BBB59" stroke-width="1.5" stroke-opacity="0.6" fill="none" stroke-linejoin="round"/><path d="M87.78 1609.1L94.48 1621.9L81.08 1621.9Z" fill="#9BBB59"/><path d="M130.55 1597.6L137.25 1610.4L123.85 1610.4Z" fill="#9BBB59"/><path d="M173.33 1554.1L180.03 1566.9L166.63 1566.9Z" fill="#9BBB59"/><path d="M216.1 1510L222.8 1522.8L209.4 1522.8Z" fill="#9BBB59"/><path d="M258.87 1449.9L265.57 1462.7L252.17 1462.7Z" fill="#9BBB59"/><path d="M301.64 1389.6L308.34 1402.4L294.94 1402.4Z" fill="#9BBB59"/><path d="M344.41 1345.8L351.11 1358.6L337.71 1358.6Z" fill="#9BBB59"/><path d="M387.19 1329.9L393.89 1342.7L380.49 1342.7Z" fill="#9BBB59"/><path d="M429.96 1357.6L436.66 1370.4L423.26 1370.4Z" fill="#9BBB59"/><path d="M472.73 1406.8L479.43 1419.6L466.03 1419.6Z" fill="#9BBB59"/><path d="M515.5 1495.1L522.2 1507.9L508.8 1507.9Z" fill="#9BBB59"/><path d="M558.27 1574.4L564.97 1587.2L551.57 1587.2Z" fill="#9BBB59"/><polyline points="87.78,1663.3 130.55,1600 173.33,1556 216.1,1505 258.87,1443.5 301.64,1385.2 344.41,1339.5 387.19,1329 429.96,1354.6 472.73,1400.9 515.5,1492.4 558.27,1578.3" stroke="#8064A2" stroke-width="1.5" stroke-opacity="0.6" fill="none" stroke-linejoin="round"/><path d="M82.38 1657.9L93.18 1668.7M82.38 1668.7L93.18 1657.9" stroke="#8064A2" stroke-width="2.3" fill="none"/><path d="M125.15 1594.6L135.95 1605.4M125.15 1605.4L135.95 1594.6" stroke="#8064A2" stroke-width="2.3" fill="none"/><path d="M167.93 1550.6L178.73 1561.4M167.93 1561.4L178.73 1550.6" stroke="#8064A2" stroke-width="2.3" fill="none"/><path d="M210.7 1499.6L221.5 1510.4M210.7 1510.4L221.5 1499.6" stroke="#8064A2" stroke-width="2.3" fill="none"/><path d="M253.47 1438.1L264.27 1448.9M253.47 1448.9L264.27 1438.1" stroke="#8064A2" stroke-width="2.3" fill="none"/><path d="M296.24 1379.8L307.04 1390.6M296.24 1390.6L307.04 1379.8" stroke="#8064A2" stroke-width="2.3" fill="none"/><path d="M339.01 1334.1L349.81 1344.9M339.01 1344.9L349.81 1334.1" stroke="#8064A2" stroke-width="2.3" fill="none"/><path d="M381.79 1323.6L392.59 1334.4M381.79 1334.4L392.59 1323.6" stroke="#8064A2" stroke-width="2.3" fill="none"/><path d="M424.56 1349.2L435.36 1360M424.56 1360L435.36 1349.2" stroke="#8064A2" stroke-width="2.3" fill="none"/><path d="M467.33 1395.5L478.13 1406.3M467.33 1406.3L478.13 1395.5" stroke="#8064A2" stroke-width="2.3" fill="none"/><path d="M510.1 1487L520.9 1497.8M510.1 1497.8L520.9 1487" stroke="#8064A2" stroke-width="2.3" fill="none"/><path d="M552.87 1572.9L563.67 1583.7M552.87 1583.7L563.67 1572.9" stroke="#8064A2" stroke-width="2.3" fill="none"/><polyline points="87.78,1607.6 130.55,1596.3 173.33,1555.8 216.1,1507.5 258.87,1447.5 301.64,1384.7 344.41,1339.7 387.19,1329.5 429.96,1355.6 472.73,1401.4 515.5,1485.9 558.27,1569.4" stroke="#4BACC6" stroke-width="1.5" stroke-opacity="0.6" fill="none" stroke-linejoin="round"/><path d="M82.38 1602.2L93.18 1613M82.38 1613L93.18 1602.2" stroke="#4BACC6" stroke-width="2.3" fill="none"/><path d="M87.78 1601.6L87.78 1613.6" stroke="#4BACC6" stroke-width="2.3" fill="none"/><path d="M125.15 1590.9L135.95 1601.7M125.15 1601.7L135.95 1590.9" stroke="#4BACC6" stroke-width="2.3" fill="none"/><path d="M130.55 1590.3L130.55 1602.3" stroke="#4BACC6" stroke-width="2.3" fill="none"/><path d="M167.93 1550.4L178.73 1561.2M167.93 1561.2L178.73 1550.4" stroke="#4BACC6" stroke-width="2.3" fill="none"/><path d="M173.33 1549.8L173.33 1561.8" stroke="#4BACC6" stroke-width="2.3" fill="none"/><path d="M210.7 1502.1L221.5 1512.9M210.7 1512.9L221.5 1502.1" stroke="#4BACC6" stroke-width="2.3" fill="none"/><path d="M216.1 1501.5L216.1 1513.5" stroke="#4BACC6" stroke-width="2.3" fill="none"/><path d="M253.47 1442.1L264.27 1452.9M253.47 1452.9L264.27 1442.1" stroke="#4BACC6" stroke-width="2.3" fill="none"/><path d="M258.87 1441.5L258.87 1453.5" stroke="#4BACC6" stroke-width="2.3" fill="none"/><path d="M296.24 1379.3L307.04 1390.1M296.24 1390.1L307.04 1379.3" stroke="#4BACC6" stroke-width="2.3" fill="none"/><path d="M301.64 1378.7L301.64 1390.7" stroke="#4BACC6" stroke-width="2.3" fill="none"/><path d="M339.01 1334.3L349.81 1345.1M339.01 1345.1L349.81 1334.3" stroke="#4BACC6" stroke-width="2.3" fill="none"/><path d="M344.41 1333.7L344.41 1345.7" stroke="#4BACC6" stroke-width="2.3" fill="none"/><path d="M381.79 1324.1L392.59 1334.9M381.79 1334.9L392.59 1324.1" stroke="#4BACC6" stroke-width="2.3" fill="none"/><path d="M387.19 1323.5L387.19 1335.5" stroke="#4BACC6" stroke-width="2.3" fill="none"/><path d="M424.56 1350.2L435.36 1361M424.56 1361L435.36 1350.2" stroke="#4BACC6" stroke-width="2.3" fill="none"/><path d="M429.96 1349.6L429.96 1361.6" stroke="#4BACC6" stroke-width="2.3" fill="none"/><path d="M467.33 1396L478.13 1406.8M467.33 1406.8L478.13 1396" stroke="#4BACC6" stroke-width="2.3" fill="none"/><path d="M472.73 1395.4L472.73 1407.4" stroke="#4BACC6" stroke-width="2.3" fill="none"/><path d="M510.1 1480.5L520.9 1491.3M510.1 1491.3L520.9 1480.5" stroke="#4BACC6" stroke-width="2.3" fill="none"/><path d="M515.5 1479.9L515.5 1491.9" stroke="#4BACC6" stroke-width="2.3" fill="none"/><path d="M552.87 1564L563.67 1574.8M552.87 1574.8L563.67 1564" stroke="#4BACC6" stroke-width="2.3" fill="none"/><path d="M558.27 1563.4L558.27 1575.4" stroke="#4BACC6" stroke-width="2.3" fill="none"/><polyline points="87.78,1596.1 130.55,1582 173.33,1542.7 216.1,1499.4 258.87,1438.4 301.64,1374.4 344.41,1333 387.19,1319.9 429.96,1344 472.73,1386.3 515.5,1466.7 558.27,1556.8" stroke="#F79646" stroke-width="1.5" stroke-opacity="0.6" fill="none" stroke-linejoin="round"/><ellipse cx="87.78" cy="1596.1" rx="6.75" ry="6.7" fill="#F79646"/><ellipse cx="130.55" cy="1582" rx="6.75" ry="6.7" fill="#F79646"/><ellipse cx="173.33" cy="1542.7" rx="6.75" ry="6.7" fill="#F79646"/><ellipse cx="216.1" cy="1499.4" rx="6.75" ry="6.7" fill="#F79646"/><ellipse cx="258.87" cy="1438.4" rx="6.75" ry="6.7" fill="#F79646"/><ellipse cx="301.64" cy="1374.4" rx="6.75" ry="6.7" fill="#F79646"/><ellipse cx="344.41" cy="1333" rx="6.75" ry="6.7" fill="#F79646"/><ellipse cx="387.19" cy="1319.9" rx="6.75" ry="6.7" fill="#F79646"/><ellipse cx="429.96" cy="1344" rx="6.75" ry="6.7" fill="#F79646"/><ellipse cx="472.73" cy="1386.3" rx="6.75" ry="6.7" fill="#F79646"/><ellipse cx="515.5" cy="1466.7" rx="6.75" ry="6.7" fill="#F79646"/><ellipse cx="558.27" cy="1556.8" rx="6.75" ry="6.7" fill="#F79646"/><polyline points="87.78,1634.7 130.55,1612.8 173.33,1562.9 216.1,1509.5 258.87,1448.2 301.64,1386.9 344.41,1344.5 387.19,1333.5 429.96,1366.4 472.73,1424.5 515.5,1516.2 558.27,1606.6" stroke="#2C4D75" stroke-width="1.5" stroke-opacity="0.6" fill="none" stroke-linejoin="round"/><path d="M81.48 1634.7L94.08 1634.7M87.78 1628.7L87.78 1640.7" stroke="#1F3F6A" stroke-width="2.1" fill="none"/><path d="M124.25 1612.8L136.85 1612.8M130.55 1606.8L130.55 1618.8" stroke="#1F3F6A" stroke-width="2.1" fill="none"/><path d="M167.03 1562.9L179.63 1562.9M173.33 1556.9L173.33 1568.9" stroke="#1F3F6A" stroke-width="2.1" fill="none"/><path d="M209.8 1509.5L222.4 1509.5M216.1 1503.5L216.1 1515.5" stroke="#1F3F6A" stroke-width="2.1" fill="none"/><path d="M252.57 1448.2L265.17 1448.2M258.87 1442.2L258.87 1454.2" stroke="#1F3F6A" stroke-width="2.1" fill="none"/><path d="M295.34 1386.9L307.94 1386.9M301.64 1380.9L301.64 1392.9" stroke="#1F3F6A" stroke-width="2.1" fill="none"/><path d="M338.11 1344.5L350.71 1344.5M344.41 1338.5L344.41 1350.5" stroke="#1F3F6A" stroke-width="2.1" fill="none"/><path d="M380.89 1333.5L393.49 1333.5M387.19 1327.5L387.19 1339.5" stroke="#1F3F6A" stroke-width="2.1" fill="none"/><path d="M423.66 1366.4L436.26 1366.4M429.96 1360.4L429.96 1372.4" stroke="#1F3F6A" stroke-width="2.1" fill="none"/><path d="M466.43 1424.5L479.03 1424.5M472.73 1418.5L472.73 1430.5" stroke="#1F3F6A" stroke-width="2.1" fill="none"/><path d="M509.2 1516.2L521.8 1516.2M515.5 1510.2L515.5 1522.2" stroke="#1F3F6A" stroke-width="2.1" fill="none"/><path d="M551.97 1606.6L564.57 1606.6M558.27 1600.6L558.27 1612.6" stroke="#1F3F6A" stroke-width="2.1" fill="none"/><text transform="translate(94.82 1701.85) rotate(-90)" font-size="18.5" text-anchor="end" letter-spacing="3.05" style="stroke-width:0.05px">JAN</text><text transform="translate(137.59 1701.85) rotate(-90)" font-size="18.5" text-anchor="end" letter-spacing="3.05" style="stroke-width:0.05px">FEB</text><text transform="translate(180.37 1701.85) rotate(-90)" font-size="18.5" text-anchor="end" letter-spacing="3.05" style="stroke-width:0.05px">MAR</text><text transform="translate(223.14 1701.85) rotate(-90)" font-size="18.5" text-anchor="end" letter-spacing="3.05" style="stroke-width:0.05px">APR</text><text transform="translate(265.91 1701.85) rotate(-90)" font-size="18.5" text-anchor="end" letter-spacing="3.05" style="stroke-width:0.05px">MAY</text><text transform="translate(308.68 1701.85) rotate(-90)" font-size="18.5" text-anchor="end" letter-spacing="3.05" style="stroke-width:0.05px">JUN</text><text transform="translate(351.46 1701.85) rotate(-90)" font-size="18.5" text-anchor="end" letter-spacing="3.05" style="stroke-width:0.05px">JUL</text><text transform="translate(394.23 1701.85) rotate(-90)" font-size="18.5" text-anchor="end" letter-spacing="3.05" style="stroke-width:0.05px">AUG</text><text transform="translate(437 1701.85) rotate(-90)" font-size="18.5" text-anchor="end" letter-spacing="3.05" style="stroke-width:0.05px">SEP</text><text transform="translate(479.77 1701.85) rotate(-90)" font-size="18.5" text-anchor="end" letter-spacing="3.05" style="stroke-width:0.05px">OCT</text><text transform="translate(522.54 1701.85) rotate(-90)" font-size="18.5" text-anchor="end" letter-spacing="3.05" style="stroke-width:0.05px">NOV</text><text transform="translate(565.32 1701.85) rotate(-90)" font-size="18.5" text-anchor="end" letter-spacing="3.05" style="stroke-width:0.05px">DEC</text><text x="262.12" y="1774.6" font-size="17.8">TIME</text><text x="310.18" y="1774.6" font-size="17.8" textLength="74.03" lengthAdjust="spacingAndGlyphs">(MONTH)</text><text transform="translate(21.09 1383.4) rotate(-90)" font-size="18.3" text-anchor="end">(°C)</text><text transform="translate(21.09 1592.7) rotate(-90)" font-size="18.3" textLength="165.9" lengthAdjust="spacingAndGlyphs">AIR TEMPERATURE</text><text x="172.07" y="1231.8" font-size="17.5" textLength="508.84" lengthAdjust="spacing">MEAN AIR TEMPERATURE FROM 2000 TO 2016</text><path d="M614.34 1432.2H658.41" stroke="#4F81BD" stroke-width="1.9" stroke-opacity="0.75"/><path d="M636.38 1427.63L641.16 1432.2L636.38 1436.77L631.59 1432.2Z" fill="#4F81BD"/><text x="662.72" y="1438.7" font-size="18.1" text-anchor="start" fill="#000">SALLOUM</text><path d="M614.34 1465.6H658.41" stroke="#F03030" stroke-width="1.9" stroke-opacity="0.75"/><rect x="631.44" y="1460.92" width="9.86" height="9.36" fill="#FF0000"/><text x="662.72" y="1472.1" font-size="18.1" text-anchor="start" fill="#000">MERSA MATRUH</text><path d="M614.34 1498.9H658.41" stroke="#9BBB59" stroke-width="1.9" stroke-opacity="0.75"/><path d="M636.38 1494.29L641.2 1503.51L631.55 1503.51Z" fill="#9BBB59"/><text x="662.72" y="1505.4" font-size="18.1" text-anchor="start" fill="#000">DABAA</text><path d="M614.34 1532.9H658.41" stroke="#8064A2" stroke-width="1.9" stroke-opacity="0.75"/><path d="M632.49 1529.01L640.26 1536.79M632.49 1536.79L640.26 1529.01" stroke="#8064A2" stroke-width="2.3" fill="none"/><text x="662.72" y="1539.4" font-size="18.1" text-anchor="start" fill="#000">ALEXANDRIA/NOUZHA</text><path d="M614.34 1566H658.41" stroke="#4BACC6" stroke-width="1.9" stroke-opacity="0.75"/><path d="M632.49 1562.11L640.26 1569.89M632.49 1569.89L640.26 1562.11" stroke="#4BACC6" stroke-width="2.3" fill="none"/><path d="M636.38 1561.68L636.38 1570.32" stroke="#4BACC6" stroke-width="2.3" fill="none"/><text x="662.72" y="1572.5" font-size="18.1" text-anchor="start" fill="#000">BALTIM</text><path d="M614.34 1599.4H658.41" stroke="#F79646" stroke-width="1.9" stroke-opacity="0.75"/><ellipse cx="636.38" cy="1599.4" rx="4.86" ry="4.82" fill="#F79646"/><text x="662.72" y="1605.9" font-size="18.1" text-anchor="start" fill="#000">PORT SAID</text><path d="M614.34 1632.5H658.41" stroke="#2C4D75" stroke-width="1.9" stroke-opacity="0.75"/><path d="M631.84 1632.5L640.91 1632.5M636.38 1628.18L636.38 1636.82" stroke="#1F3F6A" stroke-width="2.1" fill="none"/><text x="662.72" y="1639" font-size="18.1" text-anchor="start" fill="#000">EL ARISH-AGRIMET</text></g></svg></body></html>
